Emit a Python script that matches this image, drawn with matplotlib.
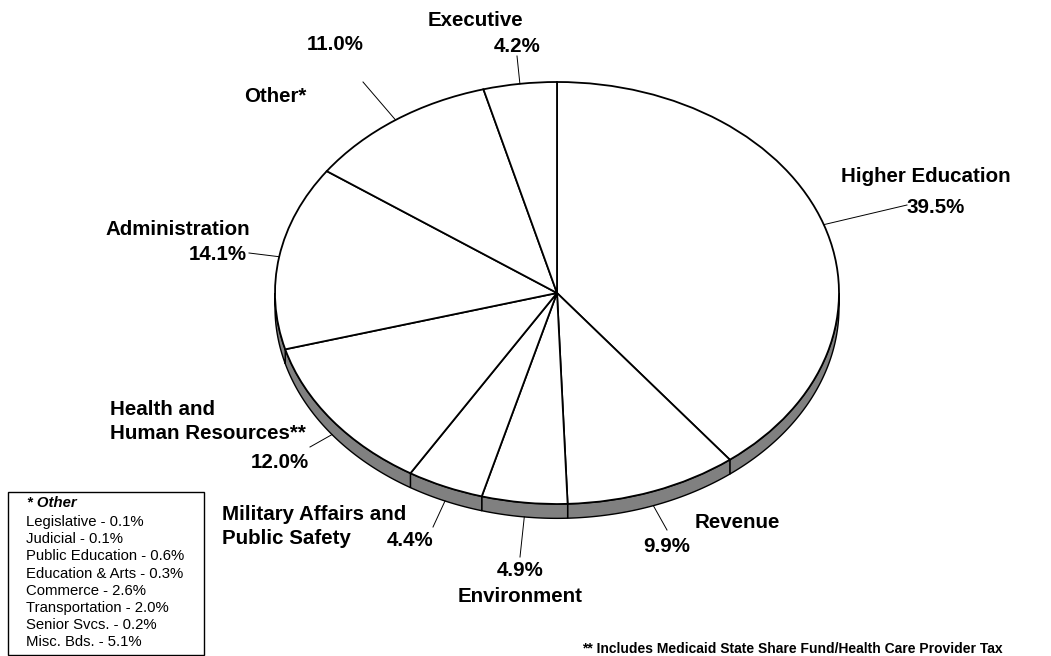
import matplotlib

matplotlib.use("Agg")
import matplotlib.pyplot as plt
import numpy as np
from matplotlib.patches import Polygon, Rectangle

plt.rcParams["font.family"] = ["Liberation Sans", "DejaVu Sans"]

# slices, clockwise from 12 o'clock
names = ["Higher Education", "Revenue", "Environment", "Military Affairs and\nPublic Safety",
         "Health and\nHuman Resources**", "Administration", "Other*", "Executive"]
shares = [39.5, 9.9, 4.9, 4.4, 12.0, 14.1, 11.0, 4.2]

other_names = ["Legislative", "Judicial", "Public Education", "Education & Arts",
               "Commerce", "Transportation", "Senior Svcs.", "Misc. Bds."]
other_shares = [0.1, 0.1, 0.6, 0.3, 2.6, 2.0, 0.2, 5.1]

footnote = "** Includes Medicaid State Share Fund/Health Care Provider Tax"

W, H = 1051, 656
CX, CY, RX, RY = 557, 293, 282, 211
DEPTH = 0.068  # rim thickness in data units


def px(x, y):
    return (x - CX) / RX, (CY - y) / RY


fig = plt.figure(figsize=(W / 100, H / 100), dpi=100)
ax = fig.add_axes([0, 0, 1, 1])

wedges, _ = ax.pie(shares, startangle=90, counterclock=False, colors=["white"] * len(shares),
                   wedgeprops=dict(edgecolor="black", linewidth=1.3, zorder=3))
ax.set_aspect("auto")
ax.set_xlim(px(0, 0)[0], px(W, 0)[0])
ax.set_ylim(px(0, H)[1], px(0, 0)[1])
ax.axis("off")

# grey side of the disc (lower half only)
for w in wedges:
    for shift in (-360, 0, 360):
        lo = max(w.theta1, 180 + shift)
        hi = min(w.theta2, 360 + shift)
        if hi <= lo:
            continue
        t = np.radians(np.linspace(lo, hi, 120))
        top = np.column_stack([np.cos(t), np.sin(t)])
        bot = np.column_stack([np.cos(t), np.sin(t) - DEPTH])[::-1]
        ax.add_patch(Polygon(np.vstack([top, bot]), closed=True, facecolor="#808080",
                             edgecolor="black", linewidth=1.0, zorder=2))

# label layout: (first name line pos, name ha, pct pos, leader end) in pixels
layout = [
    ((926, 177), "center", (936, 208), (907, 205)),
    ((695, 523), "left", (667, 547), (667, 530)),
    ((520, 597), "center", (520, 570), (520, 557)),
    ((222, 515), "left", (410, 540), (433, 527)),
    ((110, 410), "left", (280, 463), (310, 447)),
    ((178, 230), "center", (218, 255), (249, 253)),
    ((275, 97), "center", (335, 45), (363, 82)),
    ((475, 21), "center", (517, 46), (517, 56)),
]

bold = dict(fontsize=14.8, fontweight="bold", color="black")
for w, name, val, (npos, nha, ppos, lend) in zip(wedges, names, shares, layout):
    mid = np.radians((w.theta1 + w.theta2) / 2)
    sx, sy = np.cos(mid), np.sin(mid)
    if sy < 0:
        sy -= DEPTH
    ex, ey = px(*lend)
    ax.plot([sx, ex], [sy, ey], color="black", linewidth=0.7, zorder=4)
    for k, line in enumerate(name.split("\n")):
        ax.text(*px(npos[0], npos[1] + 24 * k), line, ha=nha, va="center", **bold)
    ax.text(*px(*ppos), f"{val:.1f}%", ha="center", va="center", **bold)

# breakdown box for "Other"
x0, y0 = px(8, 655)
x1, y1 = px(204, 492)
ax.add_patch(Rectangle((x0, y0), x1 - x0, y1 - y0, facecolor="white",
                       edgecolor="black", linewidth=1.0, zorder=5))
ax.text(*px(27, 503), "* Other", ha="left", va="center", fontsize=10.7,
        fontweight="bold", fontstyle="italic", zorder=6)
for i, (n, v) in enumerate(zip(other_names, other_shares)):
    ax.text(*px(26, 522 + i * 17.2), f"{n} - {v:.1f}%", ha="left", va="center",
            fontsize=10.7, zorder=6)

ax.text(*px(582, 642), footnote, ha="left", va="top", fontsize=10, fontweight="bold")

fig.savefig("out.png", dpi=100)
plt.close(fig)
